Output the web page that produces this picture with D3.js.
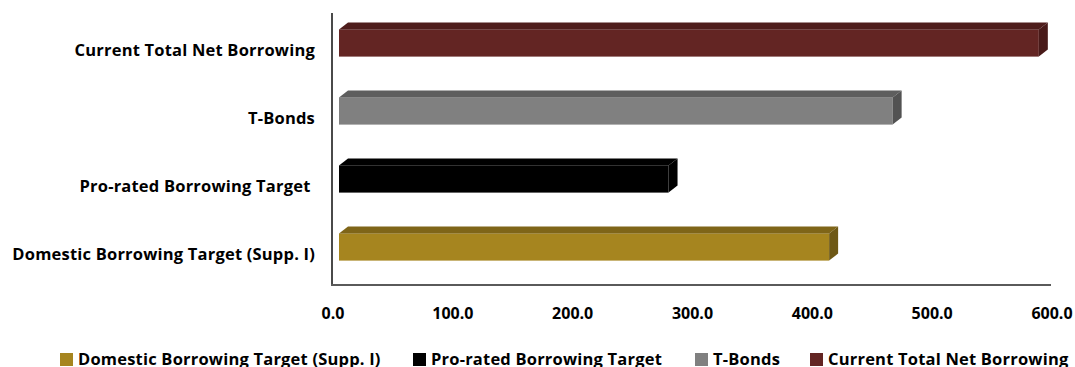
<!DOCTYPE html>
<html>
<head>
<meta charset="utf-8">
<script src="https://cdn.jsdelivr.net/npm/d3@7"></script>
<style>
  body { margin: 0; background: #fff; }
  svg text { font-family: "Open Sans", sans-serif; font-weight: bold; fill: #000; }
</style>
</head>
<body>
<div id="chart"></div>
<script>
// categories top-to-bottom as drawn
var categories = ["Current Total Net Borrowing", "T-Bonds", "Pro-rated Borrowing Target ", "Domestic Borrowing Target (Supp. I)"]
var values = [584, 462, 275, 409]
var legendOrder = ["Domestic Borrowing Target (Supp. I)", "Pro-rated Borrowing Target", "T-Bonds", "Current Total Net Borrowing"]
var tickValues = [0, 100, 200, 300, 400, 500, 600]

var colors = {
  "Current Total Net Borrowing": {front: "#632523", top: "#4e1d1c", side: "#481a19"},
  "T-Bonds": {front: "#808080", top: "#5e5e5e", side: "#525252"},
  "Pro-rated Borrowing Target": {front: "#000000", top: "#000000", side: "#000000"},
  "Domestic Borrowing Target (Supp. I)": {front: "#a6851f", top: "#7f6518", side: "#6e5815"}
}
function col(name) { return colors[name.trim()] }

var width = 1075, height = 367
var depthX = 9, depthY = -7, frontOff = 7

var svg = d3.select("#chart").append("svg")
  .attr("width", width)
  .attr("height", height)

var x = d3.scaleLinear()
  .domain([0, 600])
  .range([332, 1051])

var y = d3.scaleBand()
  .domain(categories)
  .range([9, 281])
  .paddingInner(0.6)
  .paddingOuter(0.3)

// axis lines (left wall edge and floor)
svg.append("line")
  .attr("x1", x(0)).attr("x2", x(0))
  .attr("y1", 13).attr("y2", 286)
  .attr("stroke", "#4a4a4a").attr("stroke-width", 2)

svg.append("line")
  .attr("x1", x(0) - 1).attr("x2", x(600))
  .attr("y1", 285).attr("y2", 285)
  .attr("stroke", "#5a5a5a").attr("stroke-width", 2)

// tick labels
svg.append("g").selectAll("text")
  .data(tickValues)
  .join("text")
  .attr("x", d => x(d) + 1)
  .attr("y", 319)
  .attr("text-anchor", "middle")
  .style("font-size", "16px")
  .text(d => d.toFixed(1))

// category labels
svg.append("g").selectAll("text")
  .data(categories)
  .join("text")
  .attr("x", 315)
  .attr("y", d => y(d) + y.bandwidth() / 2 + 13)
  .attr("text-anchor", "end")
  .style("font-size", "16.5px")
  .style("letter-spacing", "0.2px")
  .attr("xml:space", "preserve")
  .text(d => d)

// 3D bars
var bars = svg.append("g").selectAll("g")
  .data(categories.map((c, i) => ({cat: c, v: values[i]})))
  .join("g")

bars.each(function(d) {
  var g = d3.select(this)
  var x0 = x(0) + frontOff, x1 = x(d.v) + frontOff
  var y0 = y(d.cat), y1 = y(d.cat) + y.bandwidth()
  var c = col(d.cat)
  g.append("rect")
    .attr("x", x0).attr("y", y0)
    .attr("width", x1 - x0).attr("height", y1 - y0)
    .attr("fill", c.front)
  g.append("path")
    .attr("d", "M" + x0 + "," + y0 + "L" + (x0 + depthX) + "," + (y0 + depthY) +
               "L" + (x1 + depthX) + "," + (y0 + depthY) + "L" + x1 + "," + y0 + "Z")
    .attr("fill", c.top)
  g.append("path")
    .attr("d", "M" + x1 + "," + y0 + "L" + (x1 + depthX) + "," + (y0 + depthY) +
               "L" + (x1 + depthX) + "," + (y1 + depthY) + "L" + x1 + "," + y1 + "Z")
    .attr("fill", c.side)
})

// legend
var legendX = [60, 413, 695, 810]
var leg = svg.append("g").selectAll("g")
  .data(legendOrder)
  .join("g")
  .attr("transform", (d, i) => "translate(" + legendX[i] + ",0)")

leg.append("rect")
  .attr("x", 0).attr("y", 353)
  .attr("width", 13).attr("height", 13)
  .attr("fill", d => col(d).front)

leg.append("text")
  .attr("x", 18)
  .attr("y", 365)
  .style("font-size", "16.5px")
  .style("letter-spacing", "0.2px")
  .text(d => d)
</script>
</body>
</html>
